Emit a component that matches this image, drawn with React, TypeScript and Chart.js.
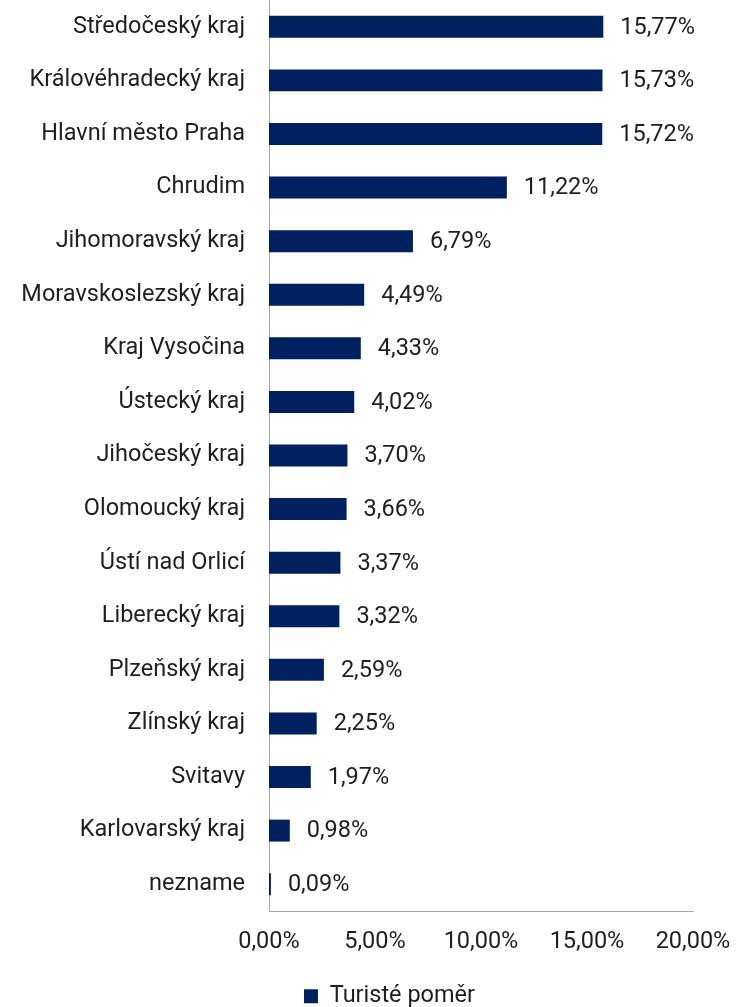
import React, { useEffect, useRef } from "react";
import { Chart, registerables } from "chart.js";

Chart.register(...registerables);

const categories = [
  "Středočeský kraj",
  "Královéhradecký kraj",
  "Hlavní město Praha",
  "Chrudim",
  "Jihomoravský kraj",
  "Moravskoslezský kraj",
  "Kraj Vysočina",
  "Ústecký kraj",
  "Jihočeský kraj",
  "Olomoucký kraj",
  "Ústí nad Orlicí",
  "Liberecký kraj",
  "Plzeňský kraj",
  "Zlínský kraj",
  "Svitavy",
  "Karlovarský kraj",
  "nezname",
];

const values = [
  0.1577, 0.1573, 0.1572, 0.1122, 0.0679, 0.0449, 0.0433, 0.0402, 0.037,
  0.0366, 0.0337, 0.0332, 0.0259, 0.0225, 0.0197, 0.0098, 0.0009,
];

const seriesName = "Turisté poměr";
const xTicks = [0, 0.05, 0.1, 0.15, 0.2];

const FONT = "Roboto, 'Liberation Sans', sans-serif";
const FS = 23.5;
const BAR = "#002060";
const TEXT = "#1f1f1f";

const fmt = (v: number) => (v * 100).toFixed(2).replace(".", ",") + "%";

const valueLabels = {
  id: "valueLabels",
  afterDatasetsDraw(chart: any) {
    const ctx = chart.ctx;
    const meta = chart.getDatasetMeta(0);
    ctx.save();
    ctx.font = `${FS}px ${FONT}`;
    ctx.fillStyle = TEXT;
    ctx.textAlign = "left";
    ctx.textBaseline = "middle";
    meta.data.forEach((bar: any, i: number) => {
      ctx.fillText(fmt(values[i]), bar.x + 17, bar.y + 1);
    });
    ctx.restore();
  },
};

const legendShift = {
  id: "legendShift",
  afterLayout(chart: any) {
    if (chart.legend) {
      chart.legend.left += 43;
      chart.legend.right += 43;
      chart.legend.top += 11;
      chart.legend.bottom += 11;
    }
  },
};

export default function App() {
  const ref = useRef<HTMLCanvasElement>(null);
  useEffect(() => {
    if (!ref.current) return;
    const chart = new Chart(ref.current, {
      type: "bar",
      data: {
        labels: categories,
        datasets: [
          {
            label: seriesName,
            data: values,
            backgroundColor: BAR,
            borderWidth: 0,
            barPercentage: 0.82,
            categoryPercentage: 0.5,
          },
        ],
      },
      options: {
        indexAxis: "y",
        animation: false,
        responsive: true,
        maintainAspectRatio: false,
        layout: { padding: { top: 0, right: 44, bottom: 0, left: 0 } },
        plugins: {
          legend: {
            position: "bottom",
            labels: {
              font: { family: FONT, size: FS },
              color: TEXT,
              boxWidth: 14,
              boxHeight: 14,
              padding: 1,
            },
          },
          tooltip: { enabled: false },
        },
        scales: {
          x: {
            min: 0,
            max: 0.2,
            afterBuildTicks: (scale: any) => {
              scale.ticks = xTicks.map((v) => ({ value: v }));
            },
            afterFit: (scale: any) => {
              scale.height = 61.5;
              scale.paddingLeft = 0;
              scale.paddingRight = 0;
            },
            ticks: {
              callback: (v: any) => fmt(Number(v)),
              font: { family: FONT, size: FS },
              color: TEXT,
              padding: 17,
              maxRotation: 0,
            },
            grid: { display: false, drawTicks: false },
            border: { display: true, color: "#a6a6a6", width: 1 },
          },
          y: {
            afterFit: (scale: any) => {
              scale.width = 269;
              scale.paddingTop = 0;
              scale.paddingBottom = 0;
            },
            ticks: {
              font: { family: FONT, size: FS },
              color: TEXT,
              padding: 24,
              autoSkip: false,
            },
            grid: { display: false, drawTicks: false },
            border: { display: true, color: "#a6a6a6", width: 1 },
          },
        },
      },
      plugins: [valueLabels, legendShift],
    });
    return () => chart.destroy();
  }, []);
  return (
    <div style={{ position: "fixed", left: 0, top: 0, width: 737, height: 1007 }}>
      <canvas ref={ref} />
    </div>
  );
}
